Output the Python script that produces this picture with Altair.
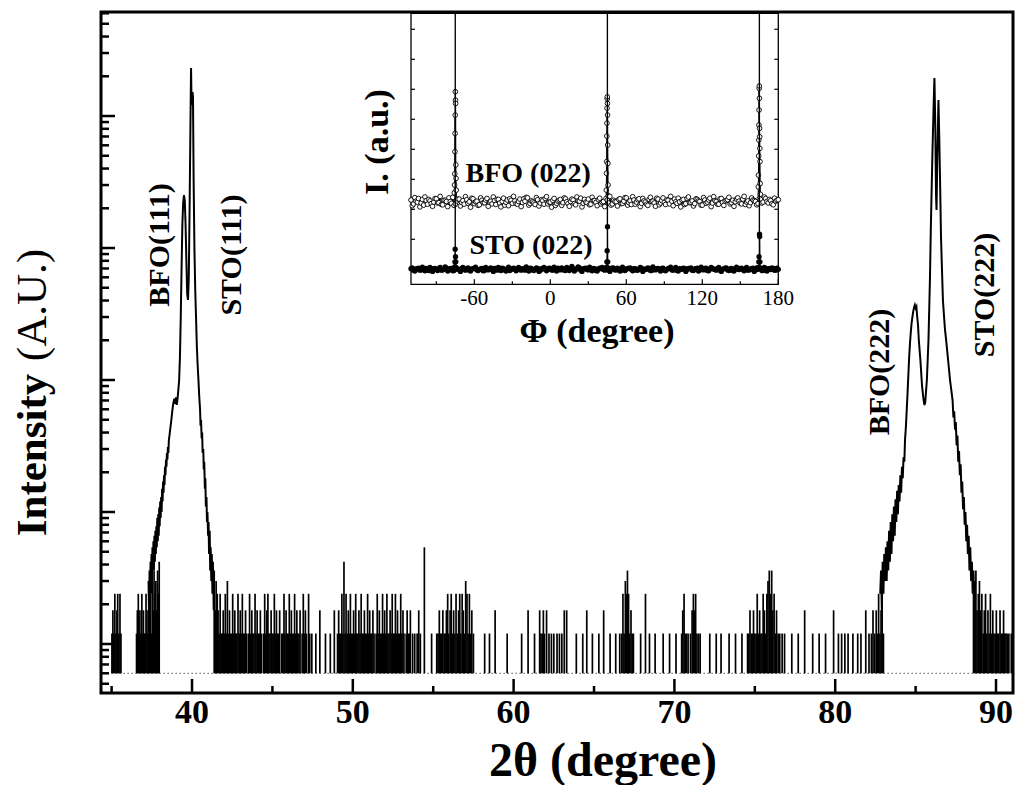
import altair as alt
import pandas as pd

FONT = "Liberation Serif"

# ---------------- main 2θ scan (intensity in arbitrary units, log axis) ----------------
floor_au = 0.6
scan_range = [35.0, 91.35]

# left peak group: BFO(111) + STO(111) (Kα1/Kα2), noisy flanks
left_peak = [
    (37.30, 3.0), (37.33, 1.8), (37.36, 3.6), (37.39, 2.4), (37.42, 4.2), (37.45, 2.4), (37.48, 4.8),
    (37.51, 3.0), (37.54, 5.4), (37.57, 3.6), (37.60, 6.0), (37.63, 3.6), (37.66, 6.6), (37.69, 4.2),
    (37.72, 7.2), (37.75, 4.8), (37.78, 7.8), (37.81, 5.4), (37.84, 9.0), (37.87, 6.0), (37.90, 9.6),
    (37.93, 6.6), (37.96, 10.8), (37.99, 7.8), (38.02, 12), (38.05, 9.0), (38.08, 13), (38.11, 10),
    (38.14, 15), (38.17, 12), (38.20, 17), (38.23, 14), (38.26, 19), (38.29, 16), (38.32, 22),
    (38.35, 19), (38.38, 25), (38.41, 22), (38.44, 28), (38.47, 25), (38.50, 31), (38.53, 28),
    (38.56, 35), (38.60, 38), (38.65, 43), (38.7, 48), (38.75, 55), (38.8, 62), (38.85, 68),
    (38.9, 72), (38.95, 66), (39.0, 74), (39.05, 64.7), (39.1, 72), (39.15, 84), (39.2, 100),
    (39.25, 150), (39.3, 300), (39.35, 700), (39.4, 1500), (39.45, 2200), (39.5, 2520), (39.55, 2300),
    (39.6, 1500), (39.65, 800), (39.7, 450), (39.75, 404), (39.8, 600), (39.85, 2000), (39.9, 8000),
    (39.94, 23100), (39.97, 13000), (40.0, 12100), (40.03, 15200), (40.06, 14000), (40.1, 3270),
    (40.15, 1000), (40.2, 480), (40.25, 300), (40.3, 180), (40.35, 130), (40.4, 100), (40.45, 75),
    (40.5, 60), (40.53, 45), (40.56, 50), (40.6, 36), (40.63, 40), (40.66, 28), (40.7, 30),
    (40.73, 21), (40.76, 24), (40.8, 15), (40.83, 18), (40.86, 11), (40.9, 13), (40.93, 8.4),
    (40.96, 10), (41.0, 6.6), (41.03, 8.4), (41.06, 4.8), (41.1, 7.2), (41.13, 3.6), (41.16, 5.4),
    (41.2, 3.0), (41.23, 4.8), (41.27, 2.4), (41.3, 4.2), (41.35, 1.8),
]

# right peak group: BFO(222) + STO(222), noisy flanks
right_peak = [
    (82.8, 2.4), (82.85, 3.6), (82.9, 1.8), (82.95, 4.2), (83.0, 2.4), (83.05, 4.8), (83.1, 3.0),
    (83.15, 5.4), (83.2, 3.0), (83.25, 6.0), (83.3, 3.6), (83.35, 7.2), (83.4, 4.2), (83.45, 8.4),
    (83.5, 4.8), (83.55, 9.6), (83.6, 6.0), (83.65, 11), (83.7, 6.6), (83.75, 12.5), (83.8, 8.4),
    (83.85, 14.5), (83.9, 9.6), (83.95, 16), (84.0, 12), (84.05, 19), (84.1, 14), (84.15, 22),
    (84.2, 18), (84.25, 26), (84.3, 24), (84.34, 35), (84.4, 45), (84.45, 60), (84.5, 80),
    (84.55, 110), (84.6, 150), (84.65, 190), (84.7, 230), (84.75, 270), (84.8, 300), (84.85, 330),
    (84.9, 355), (84.95, 370), (85.0, 350), (85.05, 360), (85.1, 300), (85.15, 261), (85.2, 200),
    (85.3, 140), (85.4, 90), (85.5, 70), (85.55, 64.7), (85.6, 68), (85.7, 100), (85.8, 200),
    (85.89, 572), (85.95, 1500), (86.05, 5530), (86.12, 12000), (86.17, 19400), (86.22, 9000),
    (86.27, 2500), (86.3, 1940), (86.35, 5000), (86.42, 13200), (86.47, 7000), (86.52, 3270),
    (86.58, 1200), (86.64, 681), (86.7, 400), (86.77, 300), (86.83, 239), (86.9, 200), (87.0, 150),
    (87.14, 100), (87.3, 70), (87.35, 52), (87.4, 58), (87.45, 42), (87.5, 48), (87.55, 32),
    (87.6, 38), (87.65, 24), (87.7, 29), (87.75, 19), (87.8, 23), (87.85, 14), (87.9, 17),
    (87.95, 10.5), (88.0, 13), (88.05, 8.0), (88.1, 10), (88.15, 6.0), (88.2, 8.0), (88.25, 4.8),
    (88.3, 6.6), (88.35, 3.6), (88.4, 5.4), (88.45, 3.0), (88.5, 4.2), (88.55, 2.4), (88.6, 3.6),
    (88.65, 1.8), (88.7, 3.0),
]

# low-count noise spikes (2θ, intensity)
noise_a = [
    (35.02, 1.2), (35.08, 1.8), (35.14, 1.2), (35.2, 2.4), (35.27, 1.2), (35.33, 1.8), (35.38, 2.4),
    (35.45, 1.2), (35.52, 2.4), (35.58, 1.2),
    (36.55, 1.2), (36.6, 1.8), (36.66, 2.4), (36.7, 1.2), (36.76, 1.8), (36.82, 1.2), (36.88, 2.4),
    (36.93, 1.2), (36.98, 1.8), (37.03, 1.2), (37.08, 1.2), (37.14, 2.4), (37.2, 1.8), (37.26, 1.2),
    (37.31, 3.0), (37.37, 1.8), (37.42, 2.4), (37.48, 1.2), (37.53, 3.0), (37.59, 1.8), (37.64, 3.6),
    (37.7, 2.4), (37.75, 3.0), (37.8, 1.8), (37.86, 3.6), (37.91, 2.4), (37.96, 4.2),
    (41.38, 3.6), (41.45, 1.8), (41.5, 3.0), (41.57, 2.4),
]
noise_b = [
    (41.62, 1.8), (41.68, 1.2), (41.75, 2.4), (41.81, 1.2), (41.88, 1.2), (41.94, 1.8), (42.01, 1.2),
    (42.07, 2.4), (42.14, 1.2), (42.2, 3.0), (42.27, 1.2), (42.33, 1.8), (42.4, 1.2), (42.46, 1.2),
    (42.53, 2.4), (42.6, 1.2), (42.66, 1.8), (42.73, 1.2), (42.79, 1.2), (42.86, 2.4), (42.93, 1.2),
    (43.0, 1.8), (43.06, 1.2), (43.13, 2.4), (43.2, 1.2), (43.26, 1.2), (43.33, 1.8), (43.4, 1.2),
    (43.52, 1.2), (43.58, 2.4), (43.65, 1.2), (43.72, 1.8), (43.78, 1.2), (43.85, 1.2), (43.92, 2.4),
    (43.98, 1.2), (44.05, 1.8), (44.12, 1.2), (44.18, 1.2), (44.25, 1.8), (44.32, 1.2), (44.45, 1.2),
    (44.52, 2.4), (44.58, 1.2), (44.65, 1.8), (44.72, 2.4), (44.78, 1.2), (44.85, 1.2), (44.92, 1.8),
    (44.98, 1.2), (45.05, 1.2), (45.12, 2.4), (45.18, 1.2), (45.25, 1.8), (45.32, 1.2), (45.38, 1.2),
    (45.45, 1.8), (45.58, 1.2), (45.65, 1.2), (45.72, 2.4), (45.78, 1.2), (45.85, 1.8), (45.92, 1.2),
    (45.98, 1.2), (46.05, 2.4), (46.12, 1.2), (46.18, 1.8), (46.25, 1.2), (46.32, 1.2), (46.38, 2.4),
    (46.45, 1.2), (46.52, 1.8), (46.58, 1.2), (46.65, 1.2), (46.72, 1.8), (46.85, 1.2), (46.92, 2.4),
    (46.98, 1.2), (47.05, 1.8), (47.12, 1.2), (47.25, 2.4), (47.32, 1.2), (47.45, 1.2),
    (47.7, 1.2), (47.95, 1.8), (48.3, 1.2), (48.6, 1.2), (48.85, 1.8),
]
noise_c = [
    (49.05, 1.2), (49.12, 1.8), (49.18, 1.2), (49.25, 1.2), (49.32, 2.4), (49.38, 1.2), (49.45, 4.2),
    (49.52, 1.2), (49.58, 2.4), (49.65, 1.2), (49.72, 1.8), (49.78, 1.2), (49.85, 2.4), (49.92, 1.2),
    (49.98, 1.2), (50.05, 1.8), (50.12, 1.2), (50.18, 2.4), (50.25, 1.2), (50.32, 1.2), (50.38, 1.8),
    (50.45, 1.2), (50.52, 2.4), (50.58, 1.2), (50.65, 1.2), (50.72, 1.8), (50.78, 1.2), (50.85, 1.2),
    (50.92, 2.4), (50.98, 1.2), (51.05, 1.8), (51.12, 1.2), (51.18, 1.2), (51.25, 1.8), (51.32, 1.2),
    (51.45, 1.2), (51.52, 2.4), (51.58, 1.2), (51.65, 1.8), (51.72, 1.2), (51.78, 1.2), (51.85, 2.4),
    (51.92, 1.2), (51.98, 1.8), (52.05, 1.2), (52.12, 2.4), (52.18, 1.2), (52.25, 1.2), (52.32, 1.8),
    (52.38, 1.2), (52.45, 2.4), (52.52, 1.2), (52.58, 1.2), (52.65, 2.4), (52.72, 1.2), (52.78, 1.8),
    (52.85, 1.2), (52.92, 1.2), (52.98, 2.4), (53.05, 1.2), (53.12, 1.8), (53.18, 1.2), (53.32, 1.2),
    (53.38, 1.8), (53.45, 1.2), (53.52, 1.2), (53.58, 1.8), (53.72, 1.2), (53.85, 1.2), (54.0, 1.2),
    (54.1, 1.8), (54.2, 1.2), (54.45, 5.4), (54.9, 1.2),
]
noise_d = [
    (55.22, 1.2), (55.3, 1.2), (55.38, 1.8), (55.45, 1.2), (55.52, 1.2), (55.6, 1.8), (55.68, 1.2),
    (55.75, 1.2), (55.82, 1.8), (55.9, 2.4), (55.97, 1.2), (56.05, 1.8), (56.12, 2.4), (56.2, 1.2),
    (56.27, 1.8), (56.35, 1.2), (56.42, 2.4), (56.5, 1.2), (56.58, 1.8), (56.65, 2.4), (56.72, 1.2),
    (56.8, 2.4), (56.87, 1.8), (56.95, 1.2), (57.02, 3.0), (57.1, 2.4), (57.17, 1.2), (57.25, 2.4),
    (57.32, 1.2), (57.4, 1.8), (57.5, 1.2),
    (58.2, 1.2), (58.5, 1.2), (58.85, 1.8), (59.6, 1.2), (60.5, 1.2), (60.9, 1.8), (61.3, 1.2),
    (61.62, 1.8), (61.7, 1.2), (61.78, 1.2), (61.85, 1.8), (61.92, 1.2), (62.05, 1.8), (62.2, 1.2),
    (62.35, 1.2), (62.5, 1.2), (62.7, 1.2), (62.85, 1.2), (63.0, 1.2), (63.15, 1.8), (63.3, 1.8),
    (63.9, 1.2), (64.3, 1.2), (64.55, 1.8), (64.9, 1.2), (65.3, 1.2), (65.6, 1.8), (66.0, 1.2),
    (66.35, 1.2), (66.6, 1.2),
    (66.72, 1.2), (66.8, 2.4), (66.87, 1.2), (66.95, 3.0), (67.02, 2.4), (67.08, 3.6), (67.15, 2.4),
    (67.22, 1.2), (67.3, 1.8), (67.38, 1.2), (67.45, 1.2),
]
noise_e = [
    (67.9, 1.2), (68.2, 2.4), (68.45, 1.2), (68.8, 1.2), (69.3, 1.2), (69.7, 1.2), (70.1, 1.2),
    (70.45, 1.2), (70.52, 1.8), (70.6, 2.4), (70.67, 1.2), (70.75, 1.2), (70.85, 1.2), (71.0, 1.2),
    (71.1, 1.8), (71.18, 2.4), (71.25, 1.8), (71.32, 2.4), (71.4, 1.2), (71.5, 1.2), (71.6, 1.2),
    (72.2, 1.2), (72.6, 1.2), (72.9, 1.2), (73.4, 1.2), (73.8, 1.2), (74.2, 1.2),
    (74.55, 1.2), (74.62, 1.2), (74.7, 1.8), (74.78, 1.2), (74.85, 1.2), (74.92, 1.8), (75.0, 1.2),
    (75.08, 1.2), (75.15, 2.4), (75.22, 1.2), (75.3, 1.8), (75.38, 1.2), (75.45, 1.2), (75.52, 2.4),
    (75.6, 1.8), (75.68, 1.2), (75.75, 2.4), (75.82, 3.0), (75.9, 3.6), (75.97, 2.4), (76.05, 3.6),
    (76.12, 1.8), (76.2, 2.4), (76.28, 1.2), (76.35, 1.8), (76.45, 1.2), (76.55, 1.2), (76.7, 1.2),
    (76.85, 1.2),
    (77.3, 1.2), (77.7, 1.2), (78.1, 1.8), (78.6, 1.2), (79.0, 1.2), (79.4, 1.2), (79.9, 1.8),
    (80.2, 1.2), (80.4, 1.2), (80.6, 1.2), (80.8, 1.2), (81.1, 1.2), (81.4, 1.2), (81.6, 1.2),
    (81.9, 1.8), (82.1, 1.2), (82.25, 1.2), (82.35, 1.8), (82.45, 1.2), (82.55, 1.8), (82.62, 1.2),
    (82.7, 2.4), (82.78, 1.2), (82.85, 1.8), (82.92, 2.4), (83.0, 1.2),
]
noise_f = [
    (88.6, 3.0), (88.68, 2.4), (88.75, 3.6), (88.82, 1.8), (88.9, 2.4), (88.97, 3.0), (89.05, 1.8),
    (89.12, 2.4), (89.2, 1.2), (89.27, 1.8), (89.35, 2.4), (89.42, 1.2), (89.5, 1.8), (89.57, 1.2),
    (89.65, 2.4), (89.72, 1.2), (89.8, 1.8), (89.87, 1.2), (89.95, 1.2), (90.02, 1.8), (90.1, 1.2),
    (90.17, 1.2), (90.25, 1.8), (90.32, 1.2), (90.4, 1.2), (90.47, 1.8), (90.55, 1.2), (90.62, 1.2),
    (90.7, 1.2), (90.8, 1.2), (90.95, 1.2), (91.1, 1.8), (91.25, 1.2),
]

x_major_ticks = [40, 50, 60, 70, 80, 90]
x_minor_ticks = [35, 45, 55, 65, 75, 85]
y_major_ticks = [1, 10, 100, 1000, 10000]
y_minor_ticks = [0.5, 0.6, 0.7, 0.8, 0.9, 2, 3, 4, 5, 6, 7, 8, 9, 20, 30, 40, 50, 60, 70, 80, 90,
                 200, 300, 400, 500, 600, 700, 800, 900, 2000, 3000, 4000, 5000, 6000, 7000, 8000,
                 9000, 20000, 30000, 40000, 50000, 60000]

peak_labels = ["BFO(111)", "STO(111)", "BFO(222)", "STO(222)"]
peak_label_x = [38.01, 42.49, 82.79, 89.32]
peak_label_y = [1054, 885, 115, 441]

# ---------------- inset: Φ scans of (022) ----------------
phi_even = list(range(-110, 182, 2))
phi_odd = list(range(-109, 180, 2))
bfo_even = [
    2.31, 2.18, 2.27, 2.36, 2.21, 2.14, 2.29, 2.33, 2.19, 2.24,
    2.35, 2.22, 2.16, 2.30, 2.26, 2.38, 2.20, 2.13, 2.28, 2.34,
    2.23, 2.17, 2.32, 2.25, 2.37, 2.19, 2.27, 2.15, 2.30, 2.22,
    2.36, 2.24, 2.18, 2.29, 2.33, 2.21, 2.26, 2.14, 2.31, 2.35,
    2.20, 2.28, 2.17, 2.34, 2.23, 2.27, 2.38, 2.19, 2.25, 2.16,
    2.32, 2.21, 2.29, 2.36, 2.18, 2.24, 2.30, 2.13, 2.27, 2.33,
    2.22, 2.35, 2.19, 2.26, 2.31, 2.15, 2.28, 2.37, 2.20, 2.24,
    2.34, 2.17, 2.29, 2.23, 2.32, 2.18, 2.26, 2.36, 2.21, 2.14,
    2.30, 2.25, 2.33, 2.19, 2.27, 2.38, 2.22, 2.16, 2.31, 2.24,
    2.35, 2.20, 2.28, 2.17, 2.33, 2.26, 2.21, 2.37, 2.15, 2.29,
    2.23, 2.32, 2.18, 2.27, 2.34, 2.20, 2.25, 2.30, 2.16, 2.36,
    2.22, 2.28, 2.19, 2.33, 2.26, 2.14, 2.31, 2.24, 2.37, 2.21,
    2.29, 2.17, 2.35, 2.23, 2.27, 2.32, 2.18, 2.30, 2.25, 2.38,
    2.20, 2.34, 2.16, 2.28, 2.22, 2.31, 2.26, 2.19, 2.33, 2.24,
    2.36, 2.21, 2.29, 2.15, 2.27, 2.32,
]
bfo_odd = [
    2.12, 2.39, 2.24, 2.08, 2.33, 2.41, 2.17, 2.28, 2.10, 2.36,
    2.21, 2.43, 2.15, 2.30, 2.09, 2.26, 2.40, 2.18, 2.34, 2.11,
    2.29, 2.42, 2.20, 2.07, 2.35, 2.25, 2.13, 2.38, 2.22, 2.31,
    2.10, 2.27, 2.41, 2.16, 2.33, 2.08, 2.37, 2.23, 2.12, 2.30,
    2.43, 2.19, 2.26, 2.09, 2.35, 2.40, 2.14, 2.28, 2.21, 2.39,
    2.11, 2.32, 2.17, 2.42, 2.24, 2.07, 2.36, 2.20, 2.30, 2.13,
    2.38, 2.25, 2.10, 2.34, 2.19, 2.41, 2.27, 2.08, 2.33, 2.22,
    2.15, 2.40, 2.29, 2.12, 2.37, 2.23, 2.09, 2.31, 2.43, 2.18,
    2.26, 2.11, 2.35, 2.20, 2.39, 2.14, 2.28, 2.42, 2.17, 2.32,
    2.09, 2.36, 2.24, 2.13, 2.40, 2.27, 2.10, 2.34, 2.21, 2.38,
    2.16, 2.30, 2.43, 2.12, 2.25, 2.37, 2.08, 2.33, 2.19, 2.41,
    2.23, 2.11, 2.35, 2.28, 2.14, 2.39, 2.20, 2.31, 2.09, 2.42,
    2.26, 2.17, 2.36, 2.13, 2.30, 2.40, 2.22, 2.10, 2.34, 2.27,
    2.18, 2.43, 2.24, 2.12, 2.38, 2.29, 2.15, 2.35, 2.21, 2.41,
    2.26, 2.33, 2.19, 2.37, 2.30,
]
sto_even = [
    0.02, -0.03, 0.01, 0.04, -0.02, 0.00, 0.03, -0.04, 0.01, 0.02,
    -0.01, 0.03, -0.03, 0.00, 0.04, -0.02, 0.01, -0.04, 0.02, 0.00,
    0.03, -0.01, 0.02, -0.03, 0.01, 0.04, -0.02, 0.00, 0.03, -0.04,
    0.01, 0.02, -0.01, 0.03, -0.03, 0.00, 0.04, -0.02, 0.01, -0.04,
    0.02, 0.00, 0.03, -0.01, 0.02, -0.03, 0.01, 0.04, -0.02, 0.00,
    0.03, -0.04, 0.01, 0.02, -0.01, 0.03, -0.03, 0.00, 0.04, -0.02,
    0.01, -0.04, 0.02, 0.00, 0.03, -0.01, 0.08, -0.03, 0.01, 0.04,
    -0.02, 0.00, 0.03, -0.04, 0.01, 0.02, -0.01, 0.03, -0.03, 0.00,
    0.04, -0.02, 0.01, -0.04, 0.02, 0.00, 0.03, -0.01, 0.02, -0.03,
    0.01, 0.04, -0.02, 0.00, 0.03, -0.04, 0.01, 0.02, -0.01, 0.03,
    -0.03, 0.00, 0.04, -0.02, 0.01, -0.04, 0.02, 0.00, 0.03, -0.01,
    0.02, -0.03, 0.01, 0.04, -0.02, 0.00, 0.03, -0.04, 0.01, 0.02,
    -0.01, 0.03, -0.03, 0.00, 0.04, -0.02, 0.01, -0.04, 0.02, 0.00,
    0.03, -0.01, 0.02, -0.03, 0.01, 0.04, -0.02, 0.00, 0.03, -0.04,
    0.01, 0.02, -0.01, 0.03, -0.03, 0.00,
]
sto_odd = [
    0.05, -0.06, 0.02, -0.03, 0.07, -0.05, 0.01, 0.06, -0.07, 0.03,
    -0.04, 0.06, -0.02, 0.08, -0.06, 0.03, -0.05, 0.04, 0.00, -0.07,
    0.06, -0.03, 0.05, -0.06, 0.02, 0.07, -0.04, 0.01, -0.05, 0.06,
    -0.02, 0.05, -0.07, 0.03, 0.06, -0.04, 0.02, -0.06, 0.07, -0.01,
    0.04, -0.05, 0.06, -0.03, 0.01, 0.08, -0.06, 0.03, -0.04, 0.05,
    -0.07, 0.02, 0.06, -0.05, 0.04, -0.02, 0.07, -0.06, 0.01, 0.05,
    -0.03, 0.06, -0.04, 0.10, -0.06, 0.02, 0.05, -0.07, 0.03, -0.01,
    0.07, -0.05, 0.02, -0.06, 0.04, 0.06, -0.03, 0.01, -0.07, 0.05,
    -0.02, 0.04, -0.06, 0.07, -0.04, 0.03, 0.05, -0.05, 0.02, -0.03,
    0.06, -0.07, 0.01, 0.05, -0.04, 0.08, -0.02, 0.03, -0.06, 0.04,
    -0.05, 0.02, 0.07, -0.03, 0.06, -0.06, 0.01, 0.04, -0.07, 0.03,
    0.05, -0.04, 0.02, -0.06, 0.07, -0.02, 0.04, -0.05, 0.06, 0.01,
    -0.03, 0.06, -0.07, 0.02, 0.05, -0.04, 0.03, -0.06, 0.07, -0.01,
    0.04, -0.05, 0.06, -0.02, 0.01, -0.07, 0.05, 0.03, -0.04, 0.06,
    -0.06, 0.02, 0.05, -0.03, 0.04,
]
bfo_peaks = [
    (-75.8, 2.55), (-75.6, 2.81), (-75.45, 3.18), (-75.3, 3.92), (-75.2, 4.53), (-75.1, 5.14),
    (-75.0, 5.92), (-74.9, 5.64), (-74.75, 5.53), (-74.6, 3.48), (-74.45, 3.03), (-74.3, 2.64),
    (44.2, 2.64), (44.35, 3.20), (44.5, 3.59), (44.6, 4.44), (44.7, 4.87), (44.8, 5.37), (44.9, 5.68),
    (45.0, 5.75), (45.1, 5.53), (45.2, 5.14), (45.3, 4.14), (45.45, 3.53), (45.6, 2.81), (45.8, 2.45),
    (164.2, 2.75), (164.35, 3.14), (164.5, 3.78), (164.6, 4.31), (164.7, 4.81), (164.8, 5.31),
    (164.9, 6.03), (165.0, 6.11), (165.1, 5.70), (165.2, 4.70), (165.3, 4.42), (165.4, 4.03),
    (165.55, 3.59), (165.7, 2.86), (165.85, 2.50),
]
sto_peaks = [
    (-75.6, 0.08), (-75.35, 0.25), (-75.15, 0.67), (-75.0, 40), (-74.85, 0.42), (-74.6, 0.25), (-74.4, 0.06),
    (44.4, 0.07), (44.65, 0.25), (44.85, 0.62), (45.0, 40), (45.15, 1.42), (45.35, 0.25), (45.6, 0.05),
    (164.4, 0.06), (164.6, 0.25), (164.8, 0.42), (165.0, 40), (165.15, 1.17), (165.3, 1.09),
    (165.5, 0.25), (165.7, 0.05),
]
x_inset_major = [-60, 0, 60, 120, 180]
x_inset_minor = [-90, -30, 30, 90, 150]
y_inset_ticks = [0, 1, 2, 3, 4, 5, 6, 7, 8]
inset_labels = ["BFO (022)", "STO (022)"]
inset_label_phi = [-17.5, -15.2]
inset_label_i = [3.18, 0.78]

# ---------------- layout (pixels inside the plot area) ----------------
W, H = 912, 681
INSET_L, INSET_R, INSET_T, INSET_B = 310, 677.3, 1.3, 272.3

# ---------------- tables ----------------
peaks_df = pd.DataFrame(
    [(x, y, "left") for x, y in left_peak] + [(x, y, "right") for x, y in right_peak],
    columns=["two_theta", "au", "group"])
noise_df = pd.DataFrame(noise_a + noise_b + noise_c + noise_d + noise_e + noise_f,
                        columns=["two_theta", "au"])
noise_df["base"] = floor_au
floor_df = pd.DataFrame({"x": [scan_range[0]], "x2": [scan_range[1]], "y": [floor_au]})
xmaj_df = pd.DataFrame({"t": x_major_ticks, "label": [str(v) for v in x_major_ticks]})
xmin_df = pd.DataFrame({"t": x_minor_ticks})
ymaj_df = pd.DataFrame({"t": y_major_ticks})
ymin_df = pd.DataFrame({"t": y_minor_ticks})
plab_df = pd.DataFrame({"label": peak_labels, "x": peak_label_x, "y": peak_label_y})

bfo_df = pd.DataFrame(list(zip(phi_even, bfo_even)) + list(zip(phi_odd, bfo_odd)) + bfo_peaks,
                      columns=["phi", "i"]).sort_values("phi")
sto_df = pd.DataFrame(list(zip(phi_even, sto_even)) + list(zip(phi_odd, sto_odd)) + sto_peaks,
                      columns=["phi", "i"]).sort_values("phi")
ixmaj_df = pd.DataFrame({"t": x_inset_major, "label": [str(v) for v in x_inset_major]})
ixmin_df = pd.DataFrame({"t": x_inset_minor})
iy_df = pd.DataFrame({"t": y_inset_ticks})
ilab_df = pd.DataFrame({"label": inset_labels, "phi": inset_label_phi, "i": inset_label_i})
titles_bold_df = pd.DataFrame({
    "text": ["2θ (degree)", "Intensity", "Φ (degree)", "I. (a.u.)"],
    "px": [502, -68, 496, 277], "py": [750, 443, 320, 130],
    "angle": [0, 270, 0, 270], "size": [48, 43, 34, 34]})
titles_reg_df = pd.DataFrame({
    "text": ["(A.U.)"], "px": [-68], "py": [293], "angle": [270], "size": [43]})

# ---------------- scales ----------------
xs = alt.Scale(domain=[34.34, 34.34 + W / 16.08], nice=False, zero=False)
ys = alt.Scale(type="log", domain=[0.4254, 61380], nice=False)
ixs = alt.Scale(domain=[-110, 180], range=[INSET_L, INSET_R], nice=False, zero=False)
iys = alt.Scale(domain=[-0.5, 8.533], range=[INSET_B, INSET_T], nice=False, zero=False)

def X(f):
    return alt.X(f, scale=xs, axis=None)

def Y(f):
    return alt.Y(f, scale=ys, axis=None)

def IX(f):
    return alt.X(f, scale=ixs, axis=None)

def IY(f):
    return alt.Y(f, scale=iys, axis=None)

# ---------------- main layers ----------------
floor = alt.Chart(floor_df).mark_rule(color="black", strokeWidth=1, strokeDash=[1, 3], clip=True).encode(
    x=X("x:Q"), x2="x2:Q", y=Y("y:Q"))
noise = alt.Chart(noise_df).mark_rule(color="black", strokeWidth=1.7, clip=True).encode(
    x=X("two_theta:Q"), y=Y("base:Q"), y2="au:Q")
peak_lines = alt.Chart(peaks_df).mark_line(color="black", strokeWidth=2, clip=True).encode(
    x=X("two_theta:Q"), y=Y("au:Q"), detail="group:N", order="two_theta:Q")
xmaj = alt.Chart(xmaj_df).mark_rule(color="black", strokeWidth=2.5).encode(
    x=X("t:Q"), y=alt.value(H), y2=alt.value(H - 14))
xmin = alt.Chart(xmin_df).mark_rule(color="black", strokeWidth=2.5).encode(
    x=X("t:Q"), y=alt.value(H), y2=alt.value(H - 7))
xlab = alt.Chart(xmaj_df).mark_text(
    font=FONT, fontSize=34, fontWeight="bold", color="black", baseline="middle").encode(
    x=X("t:Q"), y=alt.value(H + 20), text="label:N")
ymaj = alt.Chart(ymaj_df).mark_rule(color="black", strokeWidth=2.5).encode(
    y=Y("t:Q"), x=alt.value(0), x2=alt.value(14))
ymin = alt.Chart(ymin_df).mark_rule(color="black", strokeWidth=2.5).encode(
    y=Y("t:Q"), x=alt.value(0), x2=alt.value(8))
plab = alt.Chart(plab_df).mark_text(
    angle=270, font=FONT, fontSize=30, fontWeight="bold", color="black",
    align="center", baseline="middle").encode(
    x=X("x:Q"), y=Y("y:Q"), text="label:N")

main = alt.layer(floor, noise, peak_lines, xmaj, xmin, xlab, ymaj, ymin, plab)

# ---------------- inset layers ----------------
frame = alt.Chart(pd.DataFrame({"x0": [-110], "x1": [180], "y0": [-0.5], "y1": [8.533]})).mark_rect(
    filled=False, fill=None, stroke="black", strokeWidth=1.3).encode(
    x=IX("x0:Q"), x2="x1:Q", y=IY("y0:Q"), y2="y1:Q")
bfo_line = alt.Chart(bfo_df).mark_line(color="black", strokeWidth=1, clip=True).encode(
    x=IX("phi:Q"), y=IY("i:Q"), order="phi:Q")
bfo_pts = alt.Chart(bfo_df).mark_point(
    shape="circle", filled=True, fill="white", stroke="black", strokeWidth=0.9, size=22,
    opacity=1, clip=True).encode(x=IX("phi:Q"), y=IY("i:Q"))
sto_line = alt.Chart(sto_df).mark_line(color="black", strokeWidth=1.2, clip=True).encode(
    x=IX("phi:Q"), y=IY("i:Q"), order="phi:Q")
sto_pts = alt.Chart(sto_df).mark_point(
    shape="circle", filled=True, color="black", size=28, opacity=1, clip=True).encode(
    x=IX("phi:Q"), y=IY("i:Q"))
ixmaj = alt.Chart(ixmaj_df).mark_rule(color="black", strokeWidth=1.2).encode(
    x=IX("t:Q"), y=alt.value(INSET_B), y2=alt.value(INSET_B - 5))
ixmin = alt.Chart(ixmin_df).mark_rule(color="black", strokeWidth=1.2).encode(
    x=IX("t:Q"), y=alt.value(INSET_B), y2=alt.value(INSET_B - 3))
ixlab = alt.Chart(ixmaj_df).mark_text(
    font=FONT, fontSize=21, color="black", baseline="middle").encode(
    x=IX("t:Q"), y=alt.value(INSET_B + 15), text="label:N")
iyl = alt.Chart(iy_df).mark_rule(color="black", strokeWidth=1.2).encode(
    y=IY("t:Q"), x=alt.value(INSET_L), x2=alt.value(INSET_L + 4))
iyr = alt.Chart(iy_df).mark_rule(color="black", strokeWidth=1.2).encode(
    y=IY("t:Q"), x=alt.value(INSET_R - 4), x2=alt.value(INSET_R))
ilab = alt.Chart(ilab_df).mark_text(
    font=FONT, fontSize=28, fontWeight="bold", color="black", align="center",
    baseline="middle").encode(x=IX("phi:Q"), y=IY("i:Q"), text="label:N")

inset = alt.layer(frame, bfo_line, bfo_pts, sto_line, sto_pts, ixmaj, ixmin, ixlab, iyl, iyr, ilab)

# ---------------- axis titles ----------------
def title_layer(df, weight):
    return alt.Chart(df).mark_text(
        font=FONT, fontWeight=weight, color="black", align="center", baseline="middle").encode(
        x=alt.X("px:Q", scale=None, axis=None), y=alt.Y("py:Q", scale=None, axis=None),
        text="text:N", angle=alt.Angle("angle:Q", scale=None),
        size=alt.Size("size:Q", scale=None, legend=None))

titles = alt.layer(title_layer(titles_bold_df, "bold"), title_layer(titles_reg_df, "normal"))

chart = alt.layer(main, inset, titles).resolve_scale(
    x="independent", y="independent"
).properties(
    width=W, height=H,
    autosize=alt.AutoSizeParams(type="none"),
    padding={"left": 93, "top": 4, "right": 2, "bottom": 92},
    background="white",
).configure(font=FONT).configure_view(stroke="black", strokeWidth=3)

chart.save("out.html", embed_options={"renderer": "svg", "actions": False})
